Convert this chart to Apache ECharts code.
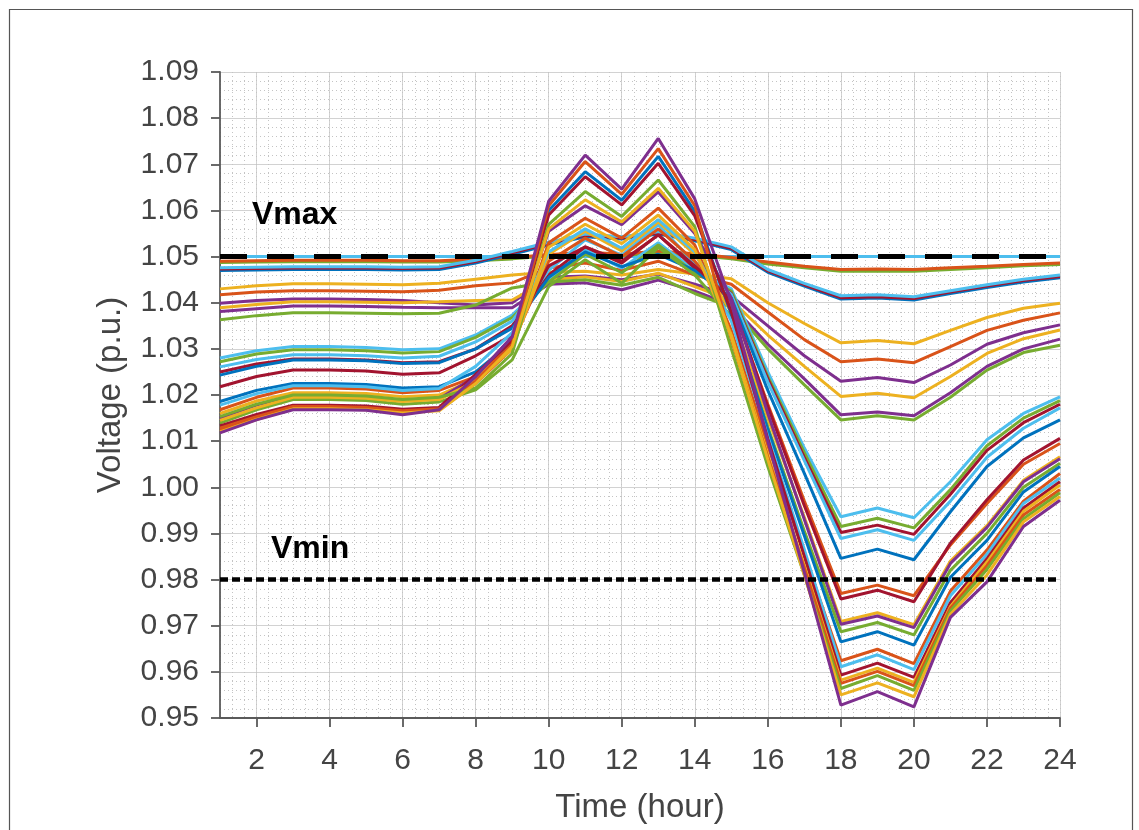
<!DOCTYPE html>
<html>
<head>
<meta charset="utf-8">
<script src="https://cdn.jsdelivr.net/npm/echarts@6/dist/echarts.min.js"></script>
<style>
  html, body { margin: 0; padding: 0; background: #ffffff; }
  #chart { width: 1139px; height: 830px; }
</style>
</head>
<body>
<div id="chart"></div>
<script>
// Hourly bus voltage profiles (p.u.) over one day
const hours = [1,2,3,4,5,6,7,8,9,10,11,12,13,14,15,16,17,18,19,20,21,22,23,24];
const xTickValues = [2,4,6,8,10,12,14,16,18,20,22,24];
const limitHours = [1, 24];
const vmaxLine = [1.05, 1.05];
const vminLine = [0.98, 0.98];

// substation bus
const busSource = [1.05,1.05,1.05,1.05,1.05,1.05,1.05,1.05,1.05,1.05,1.05,1.05,1.05,1.05,1.05,1.05,1.05,1.05,1.05,1.05,1.05,1.05,1.05,1.05];

// buses close to the substation
const busA1 = [1.0487,1.0488,1.0489,1.0489,1.0489,1.0488,1.0488,1.0491,1.0495,1.0501,1.0507,1.0502,1.0509,1.0503,1.0495,1.0484,1.0476,1.0468,1.0469,1.0468,1.0472,1.0476,1.0480,1.0483];
const busA2 = [1.0490,1.0491,1.0492,1.0492,1.0492,1.0491,1.0491,1.0494,1.0498,1.0504,1.0510,1.0505,1.0512,1.0506,1.0498,1.0488,1.0479,1.0472,1.0473,1.0472,1.0476,1.0479,1.0483,1.0486];
const busA3 = [1.0470,1.0471,1.0472,1.0472,1.0472,1.0471,1.0472,1.0486,1.0505,1.0525,1.0543,1.0538,1.0549,1.0534,1.0515,1.0466,1.0436,1.0408,1.0410,1.0406,1.0420,1.0433,1.0445,1.0454];
const busA4 = [1.0473,1.0474,1.0475,1.0475,1.0475,1.0474,1.0475,1.0489,1.0508,1.0528,1.0546,1.0540,1.0551,1.0537,1.0518,1.0469,1.0439,1.0411,1.0413,1.0409,1.0423,1.0436,1.0448,1.0457];
const busA5 = [1.0476,1.0477,1.0478,1.0478,1.0478,1.0477,1.0478,1.0492,1.0511,1.0531,1.0549,1.0543,1.0554,1.0540,1.0521,1.0472,1.0442,1.0415,1.0417,1.0413,1.0426,1.0439,1.0451,1.0460];

// lateral buses
const busB1 = [1.0430,1.0437,1.0441,1.0441,1.0440,1.0439,1.0442,1.0451,1.0460,1.0466,1.0468,1.0460,1.0472,1.0462,1.0452,1.0400,1.0355,1.0313,1.0318,1.0311,1.0340,1.0368,1.0388,1.0399];
const busB2 = [1.0417,1.0423,1.0426,1.0426,1.0425,1.0424,1.0427,1.0437,1.0443,1.0475,1.0486,1.0470,1.0490,1.0460,1.0440,1.0380,1.0320,1.0272,1.0278,1.0270,1.0305,1.0340,1.0362,1.0378];
const busB3 = [1.0399,1.0405,1.0408,1.0408,1.0407,1.0405,1.0400,1.0395,1.0400,1.0455,1.0458,1.0450,1.0462,1.0440,1.0415,1.0350,1.0285,1.0230,1.0238,1.0227,1.0265,1.0310,1.0335,1.0352];
const busB4 = [1.0389,1.0396,1.0402,1.0402,1.0401,1.0400,1.0402,1.0405,1.0406,1.0450,1.0456,1.0446,1.0464,1.0435,1.0405,1.0330,1.0262,1.0197,1.0204,1.0194,1.0240,1.0290,1.0322,1.0341];
const busB5 = [1.0381,1.0387,1.0393,1.0393,1.0392,1.0390,1.0389,1.0389,1.0389,1.0440,1.0443,1.0428,1.0449,1.0425,1.0395,1.0310,1.0235,1.0157,1.0163,1.0155,1.0205,1.0262,1.0300,1.0321];
const busB6 = [1.0363,1.0372,1.0378,1.0378,1.0377,1.0376,1.0377,1.0395,1.0432,1.0445,1.0450,1.0438,1.0455,1.0420,1.0390,1.0300,1.0222,1.0146,1.0155,1.0146,1.0195,1.0254,1.0292,1.0308];

// main feeder buses with PV
const busC1  = [1.0280,1.0296,1.0305,1.0305,1.0303,1.0298,1.0300,1.0330,1.0373,1.0450,1.0515,1.0475,1.0530,1.0470,1.0430,1.0250,1.0085,0.9936,0.9955,0.9934,1.0012,1.0103,1.0160,1.0196];
const busC2  = [1.0272,1.0289,1.0298,1.0298,1.0296,1.0291,1.0294,1.0325,1.0368,1.0445,1.0505,1.0465,1.0525,1.0465,1.0425,1.0240,1.0075,0.9915,0.9933,0.9912,0.9995,1.0090,1.0150,1.0188];
const busC3  = [1.0250,1.0267,1.0278,1.0278,1.0276,1.0270,1.0272,1.0300,1.0350,1.0460,1.0521,1.0490,1.0547,1.0475,1.0420,1.0235,1.0065,0.9902,0.9918,0.9898,0.9985,1.0080,1.0140,1.0180];
const busC4  = [1.0261,1.0277,1.0287,1.0287,1.0285,1.0280,1.0284,1.0315,1.0360,1.0470,1.0536,1.0503,1.0569,1.0485,1.0418,1.0228,1.0058,0.9889,0.9908,0.9885,0.9970,1.0065,1.0128,1.0172];
const busC5  = [1.0243,1.0262,1.0276,1.0276,1.0274,1.0268,1.0270,1.0300,1.0345,1.0455,1.0510,1.0478,1.0505,1.0470,1.0410,1.0210,1.0030,0.9846,0.9866,0.9843,0.9947,1.0045,1.0107,1.0146];
const busC6  = [1.0168,1.0195,1.0215,1.0215,1.0213,1.0205,1.0210,1.0240,1.0310,1.0490,1.0540,1.0500,1.0560,1.0490,1.0400,1.0180,0.9970,0.9770,0.9788,0.9765,0.9875,0.9965,1.0050,1.0095];
const busC7  = [1.0218,1.0240,1.0254,1.0254,1.0252,1.0245,1.0248,1.0285,1.0330,1.0480,1.0521,1.0486,1.0547,1.0480,1.0405,1.0175,0.9960,0.9758,0.9777,0.9752,0.9879,0.9973,1.0059,1.0106];
const busC8  = [1.0160,1.0187,1.0205,1.0205,1.0203,1.0196,1.0200,1.0235,1.0305,1.0505,1.0555,1.0512,1.0575,1.0505,1.0380,1.0150,0.9935,0.9709,0.9728,0.9702,0.9840,0.9917,1.0015,1.0066];
const busC9  = [1.0150,1.0178,1.0198,1.0198,1.0196,1.0188,1.0192,1.0240,1.0326,1.0555,1.0610,1.0569,1.0640,1.0550,1.0410,1.0160,0.9930,0.9703,0.9721,0.9696,0.9835,0.9913,1.0012,1.0062];
const busC10 = [1.0139,1.0168,1.0190,1.0190,1.0188,1.0180,1.0185,1.0211,1.0276,1.0435,1.0493,1.0442,1.0520,1.0460,1.0370,1.0130,0.9905,0.9687,0.9707,0.9680,0.9820,0.9900,1.0000,1.0052];
const busC11 = [1.0186,1.0210,1.0225,1.0225,1.0223,1.0215,1.0218,1.0250,1.0315,1.0600,1.0684,1.0622,1.0717,1.0598,1.0375,1.0125,0.9895,0.9665,0.9687,0.9658,0.9805,0.9885,0.9990,1.0045];
const busC12 = [1.0124,1.0150,1.0172,1.0172,1.0170,1.0163,1.0168,1.0225,1.0300,1.0530,1.0583,1.0540,1.0605,1.0525,1.0340,1.0090,0.9855,0.9624,0.9649,0.9618,0.9775,0.9864,0.9970,1.0030];
const busC13 = [1.0178,1.0203,1.0220,1.0220,1.0218,1.0210,1.0214,1.0262,1.0335,1.0510,1.0560,1.0518,1.0580,1.0510,1.0360,1.0110,0.9865,0.9611,0.9637,0.9605,0.9765,0.9855,0.9965,1.0020];
const busC14 = [1.0133,1.0158,1.0178,1.0178,1.0176,1.0169,1.0173,1.0245,1.0318,1.0590,1.0673,1.0612,1.0702,1.0588,1.0380,1.0105,0.9850,0.9593,0.9619,0.9588,0.9750,0.9845,0.9955,1.0012];
const busC15 = [1.0145,1.0172,1.0195,1.0195,1.0193,1.0186,1.0190,1.0230,1.0300,1.0520,1.0570,1.0528,1.0590,1.0515,1.0330,1.0070,0.9830,0.9582,0.9608,0.9577,0.9742,0.9838,0.9948,1.0005];
const busC16 = [1.0128,1.0153,1.0175,1.0175,1.0173,1.0166,1.0170,1.0230,1.0310,1.0610,1.0706,1.0635,1.0734,1.0610,1.0320,1.0065,0.9825,0.9575,0.9601,0.9570,0.9738,0.9830,0.9940,0.9995];
const busC17 = [1.0153,1.0180,1.0200,1.0200,1.0198,1.0190,1.0195,1.0215,1.0290,1.0570,1.0641,1.0587,1.0666,1.0565,1.0300,1.0045,0.9810,0.9564,0.9592,0.9560,0.9732,0.9822,0.9932,0.9988];
const busC18 = [1.0120,1.0147,1.0170,1.0170,1.0168,1.0161,1.0166,1.0225,1.0305,1.0560,1.0623,1.0575,1.0648,1.0555,1.0325,1.0060,0.9810,0.9550,0.9576,0.9546,0.9725,0.9810,0.9925,0.9980];
const busC19 = [1.0118,1.0146,1.0168,1.0168,1.0167,1.0157,1.0168,1.0240,1.0326,1.0620,1.0720,1.0646,1.0756,1.0625,1.0400,1.0100,0.9815,0.9528,0.9557,0.9524,0.9718,0.9795,0.9915,0.9972];

// line colours
const BLUE = '#0072BD', ORANGE = '#D95319', YELLOW = '#EDB120', PURPLE = '#7E2F8E',
      GREEN = '#77AC30', LIGHTBLUE = '#4DBEEE', DARKRED = '#A2142F';

const profiles = [
  [busSource, LIGHTBLUE],
  [busA1, GREEN], [busA2, ORANGE], [busA3, BLUE], [busA4, DARKRED], [busA5, LIGHTBLUE],
  [busB1, YELLOW], [busB2, ORANGE], [busB3, PURPLE], [busB4, YELLOW], [busB5, PURPLE], [busB6, GREEN],
  [busC1, LIGHTBLUE], [busC2, GREEN], [busC3, DARKRED], [busC4, LIGHTBLUE], [busC5, BLUE],
  [busC6, ORANGE], [busC7, DARKRED], [busC8, YELLOW], [busC9, PURPLE], [busC10, GREEN],
  [busC11, BLUE], [busC12, ORANGE], [busC13, LIGHTBLUE], [busC14, DARKRED], [busC15, YELLOW],
  [busC16, ORANGE], [busC17, GREEN], [busC18, YELLOW], [busC19, PURPLE]
];

const FONT = '"Liberation Sans", Arial, sans-serif';
const AXIS_GREY = '#5a5a5a';

const series = profiles.map(([values, color], i) => ({
  type: 'line',
  name: 'bus' + (i + 1),
  data: hours.map((h, k) => [h, values[k]]),
  showSymbol: false,
  symbol: 'none',
  lineStyle: { color: color, width: 3 },
  z: 3,
  silent: true
}));

series.push({
  type: 'line', name: 'Vmax',
  data: limitHours.map((h, k) => [h, vmaxLine[k]]),
  symbol: 'none',
  lineStyle: { color: '#000', width: 5, type: [27, 20] },
  z: 5, silent: true
});
series.push({
  type: 'line', name: 'Vmin',
  data: limitHours.map((h, k) => [h, vminLine[k]]),
  symbol: 'none',
  lineStyle: { color: '#000', width: 4.5, type: [8, 4] },
  z: 5, silent: true
});

const chart = echarts.init(document.getElementById('chart'), null, { renderer: 'canvas' });
chart.setOption({
  animation: false,
  backgroundColor: '#ffffff',
  grid: { left: 220, right: 79, top: 72, bottom: 112, containLabel: false },
  xAxis: [
    {
      type: 'value', min: 1, max: 24,
      name: 'Time (hour)', nameLocation: 'middle', nameGap: 73,
      nameTextStyle: { fontSize: 33, color: '#444', fontFamily: FONT },
      axisLine: { show: true, lineStyle: { color: AXIS_GREY, width: 1.8 } },
      axisTick: { show: true, customValues: xTickValues, length: 9, lineStyle: { color: AXIS_GREY, width: 1.8 } },
      axisLabel: { customValues: xTickValues, fontSize: 30, color: '#444', fontFamily: FONT, margin: 28 },
      splitLine: { show: true, lineStyle: { color: '#d2d2d2', width: 1 } },
      minorTick: { show: false }, minorSplitLine: { show: false }
    },
    {
      type: 'value', min: 1, max: 24, interval: 1, position: 'top',
      axisLine: { show: false }, axisTick: { show: false }, axisLabel: { show: false },
      splitLine: { show: true, lineStyle: { color: '#c4c4c4', width: 1, type: [1, 3] } },
      minorTick: { show: false, splitNumber: 3 },
      minorSplitLine: { show: true, lineStyle: { color: '#c4c4c4', width: 1, type: [1, 3] } }
    }
  ],
  yAxis: {
    type: 'value', min: 0.95, max: 1.09, interval: 0.01,
    name: 'Voltage (p.u.)', nameLocation: 'middle', nameGap: 93,
    nameTextStyle: { fontSize: 33, color: '#444', fontFamily: FONT },
    axisLine: { show: true, lineStyle: { color: AXIS_GREY, width: 1.8 } },
    axisTick: { show: true, length: 9, lineStyle: { color: AXIS_GREY, width: 1.8 } },
    axisLabel: { fontSize: 30, color: '#444', fontFamily: FONT, margin: 21,
                 formatter: v => v.toFixed(2) },
    splitLine: { show: true, lineStyle: { color: '#d2d2d2', width: 1 } },
    minorTick: { show: false, splitNumber: 5 },
    minorSplitLine: { show: true, lineStyle: { color: '#c4c4c4', width: 1, type: [1, 3] } }
  },
  series: series,
  graphic: [
    { type: 'rect', silent: true, z: 0,
      shape: { x: 9.5, y: 9.5, width: 1123, height: 840 },
      style: { fill: 'none', stroke: '#555', lineWidth: 1.2 } },
    { type: 'text', silent: true, z: 10, left: 252, top: 199,
      style: { text: 'Vmax', font: 'bold 32px ' + FONT, fill: '#000' } },
    { type: 'text', silent: true, z: 10, left: 271, top: 533,
      style: { text: 'Vmin', font: 'bold 32px ' + FONT, fill: '#000' } }
  ]
});
</script>
</body>
</html>
